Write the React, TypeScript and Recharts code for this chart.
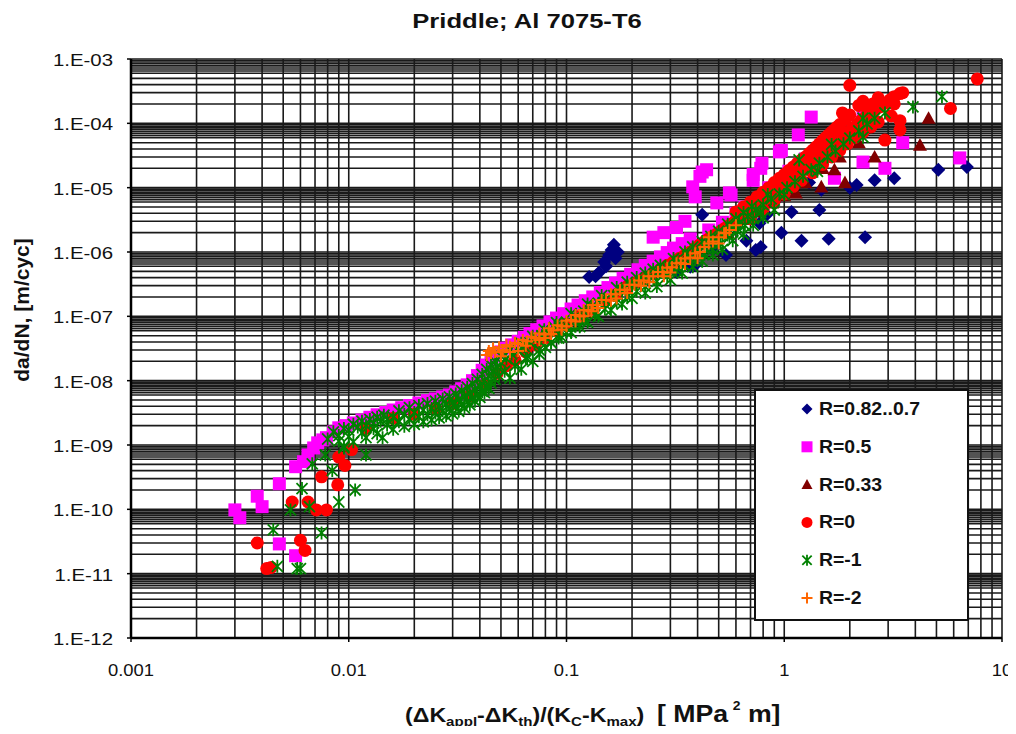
import React from "react";
import { ScatterChart, Scatter, XAxis, YAxis, CartesianGrid } from "recharts";

type Pt = [number, number];

const FONT = "'Liberation Sans', Arial, Helvetica, sans-serif";

const xTicks = [0.001, 0.01, 0.1, 1, 10];
const yTicks = [1e-12, 1e-11, 1e-10, 1e-9, 1e-8, 1e-7, 1e-6, 1e-5, 1e-4, 1e-3];

// R = 0.82..0.7
const navyPts: Pt[] = [
  [0.127, 4.1e-7], [0.136, 4.2e-7], [0.141, 4.8e-7], [0.149, 7e-7], [0.152, 6e-7], [0.157, 9e-7],
  [0.161, 1.07e-6], [0.165, 1.3e-6], [0.168, 8e-7], [0.172, 1.0e-6],
  [0.32, 4.9e-7], [0.34, 7.5e-7], [0.37, 5.9e-7], [0.39, 6.3e-7], [0.42, 3.8e-6], [0.47, 1.1e-6],
  [0.54, 9e-7], [0.6, 2.6e-6], [0.67, 1.5e-6], [0.74, 1.07e-6], [0.78, 1.2e-6], [0.77, 2.8e-6],
  [0.83, 3.8e-6], [0.9, 6e-6], [0.97, 2e-6], [1.08, 4.2e-6], [1.2, 1.5e-6], [1.3, 1.2e-5],
  [1.45, 4.5e-6], [1.48, 9.3e-6], [1.6, 1.6e-6], [2.0, 1.0e-5], [2.15, 1.1e-5], [2.35, 1.7e-6],
  [2.6, 1.3e-5], [3.2, 1.4e-5], [5.1, 1.9e-5], [6.9, 2.1e-5],
];

// R = 0.5
const magentaPts: Pt[] = [
  [0.003, 9.8e-11], [0.00316, 7.4e-11], [0.0038, 1.6e-10], [0.004, 1.1e-10], [0.0048, 2.5e-10],
  [0.0048, 2.9e-11], [0.0057, 1.9e-11], [0.0057, 4.6e-10], [0.0062, 5.5e-10], [0.0065, 7e-10],
  [0.0069, 9e-10], [0.0072, 1.08e-9], [0.0076, 1.2e-9], [0.0079, 1.3e-9],
  [0.0085, 1.6e-9], [0.009, 1.85e-9], [0.0097, 2.0e-9], [0.0105, 2.2e-9], [0.0115, 2.45e-9],
  [0.0125, 2.7e-9], [0.0135, 2.95e-9], [0.0148, 3.2e-9], [0.016, 3.5e-9], [0.0175, 3.8e-9],
  [0.019, 4.1e-9], [0.021, 4.5e-9], [0.023, 4.9e-9], [0.025, 5.2e-9], [0.027, 5.6e-9],
  [0.029, 6.0e-9], [0.031, 6.7e-9], [0.033, 7.5e-9], [0.035, 8.6e-9], [0.037, 1.0e-8],
  [0.039, 1.2e-8], [0.041, 1.45e-8], [0.043, 1.75e-8], [0.045, 2.1e-8], [0.047, 2.4e-8],
  [0.05, 2.8e-8], [0.053, 3.2e-8], [0.056, 3.6e-8], [0.06, 4.1e-8], [0.064, 4.7e-8],
  [0.068, 5.4e-8], [0.073, 6.2e-8], [0.078, 7.1e-8], [0.084, 8.2e-8], [0.09, 9.4e-8],
  [0.097, 1.1e-7], [0.105, 1.3e-7], [0.113, 1.5e-7], [0.122, 1.75e-7], [0.132, 2.0e-7],
  [0.143, 2.35e-7], [0.155, 2.8e-7], [0.168, 3.3e-7], [0.182, 3.9e-7], [0.197, 4.5e-7],
  [0.213, 5.3e-7], [0.23, 6.2e-7], [0.25, 7.2e-7], [0.27, 8.4e-7], [0.29, 9.8e-7],
  [0.31, 1.15e-6], [0.34, 1.35e-6], [0.37, 1.6e-6], [0.45, 2.2e-6], [0.52, 2.9e-6],
  [0.6, 4e-6], [0.66, 5e-6], [0.85, 1e-5], [1.05, 1.8e-5], [1.25, 2.8e-5], [1.45, 4e-5],
  [0.25, 1.7e-6], [0.28, 2.0e-6], [0.32, 2.4e-6], [0.35, 3.0e-6], [0.38, 1.03e-5], [0.39, 7.2e-6],
  [0.41, 1.5e-5], [0.42, 1.75e-5], [0.44, 1.9e-5], [0.49, 5.8e-6], [0.56, 8.3e-6], [0.57, 7.7e-6],
  [0.72, 1.3e-5], [0.72, 1.6e-5], [0.78, 2e-5], [0.79, 2.4e-5], [0.95, 3.6e-5], [0.97, 3.8e-5],
  [1.16, 6.6e-5], [1.33, 1.25e-4], [1.7, 1.4e-5], [2.3, 2.5e-5], [2.9, 2e-5], [3.5, 5e-5],
  [6.4, 2.9e-5], [2.3, 1.25e-4],
];

// R = 0.33
const darkRedPts: Pt[] = [
  [0.55, 2.0e-6], [0.65, 3.2e-6], [0.75, 4.2e-6], [0.88, 5.8e-6], [1.0, 7.5e-6], [1.13, 8.3e-6],
  [1.25, 1.2e-5], [1.48, 1.03e-5], [1.5, 2e-5], [1.7, 1.9e-5], [1.8, 3e-5], [1.9, 1.2e-5],
  [2.2, 5e-5], [2.6, 3e-5], [4.2, 4.6e-5], [4.6, 1.2e-4],
];

// R = 0
const redPts: Pt[] = [
  [0.0038, 3e-11], [0.0042, 1.2e-11], [0.0044, 1.25e-11], [0.0055, 1.3e-10], [0.006, 3.3e-11],
  [0.0063, 2.3e-11], [0.0065, 1.3e-10], [0.0071, 9.8e-11], [0.0079, 9.8e-11], [0.0075, 3.2e-10],
  [0.0089, 2.4e-10], [0.009, 6.5e-10], [0.0096, 4.8e-10], [0.0103, 8.5e-10],
  [0.012, 1.8e-9], [0.016, 2.6e-9], [0.02, 3.0e-9], [0.025, 3.7e-9], [0.03, 4.4e-9], [0.036, 5.8e-9],
  [0.042, 8.5e-9], [0.048, 1.3e-8], [0.053, 1.7e-8], [0.058, 2.1e-8], [0.065, 2.8e-8], [0.072, 3.6e-8],
  [0.08, 4.6e-8], [0.09, 6e-8], [0.1, 7.6e-8], [0.115, 1.0e-7], [0.13, 1.3e-7], [0.15, 1.7e-7],
  [0.17, 2.2e-7], [0.19, 2.9e-7], [0.21, 3.4e-7], [0.23, 4.0e-7], [0.25, 4.7e-7], [0.27, 5.4e-7],
  [0.29, 6.2e-7], [0.31, 7.0e-7], [0.33, 8.0e-7], [0.35, 9.0e-7], [0.37, 1.0e-6], [0.39, 1.15e-6],
  [0.41, 1.3e-6], [0.43, 1.45e-6], [0.45, 1.6e-6], [0.47, 1.75e-6], [0.49, 1.9e-6], [0.51, 2.1e-6],
  [0.53, 2.3e-6], [0.55, 2.5e-6], [0.57, 2.7e-6], [0.59, 2.9e-6], [0.61, 3.2e-6], [0.63, 3.5e-6],
  [0.66, 3.9e-6], [0.69, 4.3e-6], [0.72, 4.8e-6], [0.75, 5.3e-6], [0.78, 5.9e-6], [0.81, 6.5e-6],
  [0.84, 7.2e-6], [0.87, 8e-6], [0.9, 8.8e-6], [0.94, 9.8e-6], [0.98, 1.1e-5], [1.02, 1.2e-5],
  [1.06, 1.35e-5], [1.1, 1.5e-5], [1.15, 1.65e-5], [1.2, 1.85e-5], [1.25, 2.05e-5], [1.3, 2.3e-5],
  [1.36, 2.6e-5], [1.42, 2.9e-5], [1.48, 3.3e-5], [1.55, 3.7e-5], [1.62, 4.2e-5], [1.7, 4.8e-5],
  [1.78, 5.5e-5], [1.86, 6.3e-5], [1.95, 7.2e-5], [2.05, 8.3e-5], [2.15, 9.5e-5], [2.25, 1.1e-4],
  [2.36, 1.25e-4], [2.48, 1.4e-4], [2.6, 1.6e-4], [2.75, 1.8e-4], [2.9, 2.05e-4], [3.05, 2.3e-4],
  [3.2, 2.6e-4], [3.4, 2.9e-4],
  [0.6, 4.2e-6], [0.7, 6e-6], [0.8, 8.5e-6], [0.9, 1.2e-5], [1.0, 1.6e-5], [1.1, 2.1e-5],
  [1.2, 2.7e-5], [1.3, 3.4e-5], [1.4, 4.3e-5], [1.5, 5.4e-5], [1.6, 6.6e-5], [1.7, 8e-5],
  [1.8, 9.6e-5], [1.85, 1.45e-4], [1.9, 1.15e-4], [2.0, 1.35e-4],
  [0.65, 5e-6], [0.75, 7.2e-6], [0.85, 1.0e-5], [0.95, 1.4e-5], [1.05, 1.85e-5], [1.15, 2.4e-5],
  [1.25, 3.0e-5], [1.35, 3.8e-5], [1.45, 4.8e-5], [1.55, 6e-5], [1.65, 7.3e-5], [1.75, 8.8e-5],
  [2.4, 1.7e-4], [2.55, 2.0e-4], [2.3, 2.2e-4],
  [0.7, 3.3e-6], [0.8, 4.6e-6], [0.9, 6.2e-6], [1.0, 8e-6], [1.1, 1.05e-5], [1.2, 1.3e-5],
  [1.35, 1.7e-5], [1.5, 2.3e-5], [1.65, 3e-5], [1.8, 3.8e-5], [1.95, 4.8e-5], [2.1, 6e-5],
  [2.3, 7.3e-5], [2.5, 8.8e-5], [2.7, 1.05e-4], [2.9, 5.5e-5], [3.1, 1.3e-4], [3.4, 1.1e-4],
  [3.4, 7.9e-5],
  [2.0, 3.9e-4], [2.2, 1.9e-4], [2.7, 2.5e-4], [3.2, 2e-4], [3.5, 3e-4], [5.8, 1.7e-4], [7.7, 4.9e-4],
];

// R = -1
const greenPts: Pt[] = [
  [0.0045, 4.8e-11], [0.0047, 1.3e-11], [0.0058, 1.2e-11], [0.006, 1.2e-11], [0.0075, 4.3e-11],
  [0.0061, 2.1e-10], [0.0054, 9.8e-11], [0.009, 1.3e-10], [0.0107, 2e-10], [0.0066, 1.1e-10],
  [0.0068, 5.1e-10], [0.0084, 4e-10], [0.012, 7e-10], [0.0143, 1.3e-9], [0.0078, 7e-10], [0.0095, 9e-10],
  [0.008, 1.24e-9], [0.009, 1.4e-9], [0.01, 1.7e-9], [0.011, 1.9e-9], [0.012, 2.0e-9], [0.013, 2.2e-9],
  [0.014, 2.35e-9], [0.015, 2.5e-9], [0.016, 2.7e-9], [0.018, 3.0e-9], [0.02, 3.2e-9], [0.022, 3.5e-9],
  [0.024, 3.7e-9], [0.026, 4.0e-9], [0.028, 4.3e-9], [0.03, 4.6e-9], [0.032, 5.1e-9], [0.034, 5.7e-9],
  [0.036, 6.4e-9], [0.038, 7.2e-9], [0.04, 8.3e-9], [0.042, 1.0e-8], [0.044, 1.2e-8], [0.046, 1.4e-8],
  [0.048, 1.65e-8], [0.05, 1.9e-8], [0.053, 2.2e-8], [0.056, 2.6e-8], [0.06, 2.9e-8], [0.064, 3.4e-8],
  [0.068, 3.9e-8], [0.072, 4.4e-8], [0.077, 5e-8], [0.082, 5.8e-8], [0.088, 6.7e-8], [0.094, 7.4e-8],
  [0.1, 8.1e-8], [0.11, 1.0e-7], [0.12, 1.2e-7], [0.13, 1.4e-7], [0.14, 1.6e-7], [0.15, 1.8e-7],
  [0.165, 2.1e-7], [0.18, 2.5e-7], [0.2, 3.0e-7], [0.22, 3.4e-7], [0.24, 4.1e-7], [0.26, 4.7e-7],
  [0.28, 5.3e-7], [0.3, 5.9e-7], [0.33, 7.1e-7], [0.36, 8.5e-7], [0.4, 1.03e-6], [0.44, 1.3e-6],
  [0.48, 1.5e-6], [0.52, 1.8e-6], [0.57, 2.3e-6], [0.62, 2.8e-6], [0.68, 3.6e-6], [0.74, 4.5e-6],
  [0.8, 5.4e-6], [0.87, 6.7e-6], [0.95, 8.0e-6], [1.03, 1.0e-5], [1.12, 1.24e-5], [1.22, 1.5e-5],
  [1.33, 1.9e-5], [1.45, 2.4e-5], [1.58, 3.0e-5], [1.72, 3.7e-5], [1.87, 4.8e-5], [2.0, 5.9e-5],
  [2.2, 7.6e-5], [2.4, 9.8e-5], [2.6, 1.2e-4], [2.9, 1.45e-4], [3.9, 1.8e-4], [5.3, 2.6e-4],
  [0.0085, 1.6e-9], [0.0095, 1.8e-9], [0.0105, 2.1e-9], [0.0115, 2.35e-9], [0.0125, 2.5e-9],
  [0.0135, 2.7e-9], [0.0145, 2.9e-9], [0.017, 3.4e-9], [0.019, 3.8e-9], [0.021, 4.1e-9],
  [0.023, 4.4e-9], [0.025, 4.8e-9], [0.027, 5.2e-9], [0.029, 5.6e-9], [0.031, 6.2e-9],
  [0.033, 7.0e-9], [0.035, 7.9e-9], [0.037, 9.0e-9], [0.039, 1.05e-8], [0.041, 1.25e-8],
  [0.043, 1.5e-8], [0.045, 1.75e-8], [0.047, 2.0e-8], [0.05, 2.4e-8], [0.055, 3.0e-8],
  [0.062, 3.8e-8], [0.07, 4.9e-8], [0.079, 6.2e-8], [0.09, 8.0e-8], [0.105, 1.1e-7],
  [0.125, 1.55e-7], [0.145, 2.1e-7], [0.17, 2.8e-7], [0.19, 3.4e-7], [0.21, 4.0e-7],
  [0.23, 4.7e-7], [0.25, 5.4e-7], [0.27, 6.2e-7], [0.31, 7.9e-7], [0.35, 1.0e-6], [0.38, 1.2e-6],
  [0.42, 1.45e-6], [0.46, 1.75e-6], [0.5, 2.1e-6], [0.55, 2.7e-6], [0.6, 3.3e-6], [0.65, 4.1e-6],
  [0.71, 5.1e-6], [0.84, 7.8e-6], [1.17, 2.7e-5], [1.65, 4.7e-5], [2.3, 1.2e-4],
  [0.009, 1.15e-9], [0.01, 1.35e-9], [0.0115, 1.55e-9], [0.013, 1.8e-9], [0.015, 2.05e-9],
  [0.017, 2.3e-9], [0.019, 2.55e-9], [0.021, 2.75e-9], [0.023, 2.95e-9], [0.025, 3.15e-9],
  [0.027, 3.4e-9], [0.029, 3.65e-9], [0.031, 3.95e-9], [0.033, 4.3e-9], [0.035, 4.7e-9],
  [0.037, 5.2e-9], [0.039, 5.9e-9], [0.041, 6.8e-9], [0.043, 7.9e-9], [0.045, 9.2e-9],
  [0.047, 1.05e-8], [0.049, 1.2e-8], [0.052, 1.4e-8], [0.055, 1.1e-8], [0.058, 1.7e-8],
  [0.062, 1.5e-8], [0.066, 2.2e-8], [0.07, 2.0e-8], [0.075, 2.6e-8], [0.08, 3.3e-8],
  [0.085, 3.9e-8], [0.092, 4.6e-8], [0.1, 5.6e-8], [0.11, 7.0e-8], [0.12, 8.5e-8],
  [0.135, 1.05e-7], [0.15, 1.3e-7], [0.17, 1.65e-7], [0.19, 2.0e-7], [0.21, 2.45e-7],
  [0.23, 2.9e-7], [0.26, 3.5e-7], [0.29, 4.2e-7], [0.32, 5.1e-7], [0.35, 6.1e-7], [0.39, 7.5e-7],
  [0.43, 9.2e-7], [0.47, 1.1e-6], [0.51, 1.35e-6], [0.56, 1.7e-6], [0.61, 2.1e-6], [0.66, 2.6e-6],
  [0.72, 3.3e-6], [0.78, 4.1e-6], [1.0, 7.8e-6], [1.42, 1.8e-5], [2.3, 6.1e-5],
  // lower fringe of the band
  [0.0095, 9.5e-10], [0.0105, 1.12e-9], [0.012, 1.3e-9], [0.0135, 1.5e-9], [0.016, 1.75e-9],
  [0.018, 1.95e-9], [0.02, 2.1e-9], [0.022, 2.3e-9], [0.024, 2.45e-9], [0.026, 2.65e-9],
  [0.028, 2.85e-9], [0.03, 3.05e-9], [0.032, 3.35e-9], [0.034, 3.75e-9], [0.036, 4.2e-9],
  [0.038, 4.8e-9], [0.04, 5.5e-9], [0.042, 6.5e-9], [0.044, 7.6e-9], [0.065, 2.25e-8],
  [0.075, 3e-8], [0.085, 3.9e-8], [0.095, 4.75e-8], [0.105, 5.6e-8], [0.115, 6.9e-8],
  [0.125, 8.1e-8], [0.14, 1.0e-7], [0.16, 1.25e-7], [0.18, 1.55e-7], [0.2, 1.9e-7],
  [0.23, 2.3e-7], [0.26, 2.9e-7], [0.3, 3.7e-7], [0.34, 4.7e-7], [0.38, 5.9e-7], [0.42, 7.2e-7],
  [0.47, 9e-7], [0.52, 1.1e-6], [0.58, 1.5e-6], [0.65, 1.9e-6], [0.72, 2.6e-6], [0.8, 3.4e-6],
  [0.9, 4.5e-6],
];

// R = -2
const orangePts: Pt[] = [
  [0.043, 2.5e-8], [0.044, 2.9e-8], [0.045, 2.7e-8], [0.046, 3.2e-8], [0.047, 2.8e-8], [0.049, 3.3e-8],
  [0.051, 3.0e-8], [0.053, 3.6e-8], [0.055, 3.4e-8], [0.058, 3.9e-8], [0.06, 3.7e-8], [0.063, 4.3e-8],
  [0.066, 4.1e-8], [0.069, 4.8e-8], [0.072, 4.6e-8], [0.075, 5.4e-8], [0.079, 5.2e-8], [0.083, 6.5e-8],
  [0.087, 6.1e-8], [0.091, 7.3e-8], [0.095, 7.0e-8], [0.1, 8.5e-8], [0.105, 8.8e-8], [0.11, 1.05e-7],
  [0.115, 1.0e-7], [0.12, 1.25e-7], [0.126, 1.25e-7], [0.132, 1.5e-7], [0.138, 1.5e-7], [0.145, 1.8e-7],
  [0.152, 1.8e-7], [0.16, 2.2e-7], [0.168, 2.2e-7], [0.176, 2.6e-7], [0.185, 2.6e-7], [0.195, 3.1e-7],
  [0.205, 3.1e-7], [0.215, 3.6e-7], [0.226, 3.6e-7], [0.238, 4.2e-7], [0.25, 4.2e-7], [0.263, 4.9e-7],
  [0.276, 4.9e-7], [0.29, 5.7e-7], [0.305, 5.8e-7], [0.32, 6.7e-7], [0.335, 6.8e-7], [0.35, 7.9e-7],
  [0.37, 8.2e-7], [0.39, 9.6e-7], [0.41, 1.0e-6], [0.43, 1.2e-6], [0.45, 1.35e-6], [0.47, 1.45e-6],
  [0.5, 1.7e-6], [0.53, 1.95e-6], [0.56, 2.2e-6], [0.6, 2.6e-6], [0.45, 1.7e-6], [0.54, 2.0e-6],
  [0.06, 2.9e-8], [0.08, 4.6e-8], [0.1, 7e-8], [0.13, 1.2e-7], [0.17, 1.9e-7], [0.22, 3e-7],
  [0.28, 4.2e-7], [0.35, 6.5e-7],
  [0.05, 2.4e-8], [0.055, 2.8e-8], [0.065, 3.5e-8], [0.075, 4.3e-8], [0.085, 5.3e-8], [0.095, 6.2e-8],
  [0.11, 8.3e-8], [0.12, 1.0e-7], [0.14, 1.35e-7], [0.16, 1.75e-7], [0.19, 2.3e-7], [0.24, 3.4e-7],
  [0.3, 4.8e-7], [0.4, 8e-7], [0.5, 1.35e-6],
];

const toRows = (pts: Pt[]) => pts.map(([x, y]) => ({ x, y }));

// log grid: every integer step in x, denser steps toward the top of each y decade
const xSteps = [1, 2, 3, 4, 5, 6, 7, 8, 9];
const ySteps = [1, 2, 3, 4, 5, 6, 6.5, 7, 7.5, 8, 8.5, 9, 9.5];
const xGrid = [-3, -2, -1, 0].flatMap((e) => xSteps.map((s) => s * Math.pow(10, e))).concat(10);
const yGrid = [-12, -11, -10, -9, -8, -7, -6, -5, -4]
  .flatMap((e) => ySteps.map((s) => s * Math.pow(10, e)))
  .concat(1e-3);

const drawDiamond = (cx: number, cy: number, r = 7) => (
  <path d={`M${cx},${cy - r}L${cx + r},${cy}L${cx},${cy + r}L${cx - r},${cy}Z`} fill="#000080" />
);
const drawSquare = (cx: number, cy: number, r = 6.5) => (
  <rect x={cx - r} y={cy - r} width={2 * r} height={2 * r} fill="#ff00ff" />
);
const drawTriangle = (cx: number, cy: number, r = 7) => (
  <path d={`M${cx},${cy - r}L${cx + r},${cy + r * 0.8}L${cx - r},${cy + r * 0.8}Z`} fill="#800000" />
);
const drawCircle = (cx: number, cy: number, r = 6.5) => <circle cx={cx} cy={cy} r={r} fill="#ff0000" />;
const drawStar = (cx: number, cy: number, r = 6.5) => (
  <path
    d={`M${cx},${cy - r}V${cy + r}M${cx - r * 0.85},${cy - r * 0.85}L${cx + r * 0.85},${cy + r * 0.85}M${cx + r * 0.85},${cy - r * 0.85}L${cx - r * 0.85},${cy + r * 0.85}`}
    stroke="#008000"
    strokeWidth={1.8}
    fill="none"
  />
);
const drawPlus = (cx: number, cy: number, r = 6) => (
  <path d={`M${cx - r},${cy}H${cx + r}M${cx},${cy - r}V${cy + r}`} stroke="#ff6600" strokeWidth={2} fill="none" />
);

const series = [
  { name: "R=0.82..0.7", pts: navyPts, draw: drawDiamond },
  { name: "R=0.5", pts: magentaPts, draw: drawSquare },
  { name: "R=0.33", pts: darkRedPts, draw: drawTriangle },
  { name: "R=0", pts: redPts, draw: drawCircle },
  { name: "R=-1", pts: greenPts, draw: drawStar },
  { name: "R=-2", pts: orangePts, draw: drawPlus },
];

const fmtY = (v: number) => {
  const e = Math.round(-Math.log10(v));
  return `1.E-${String(e).padStart(2, "0")}`;
};

const YTick = (p: any) => (
  <text
    transform={`translate(${p.x},${p.y + 7}) scale(1.2,1)`}
    textAnchor="end"
    fontSize={17}
    fontFamily={FONT}
    fill="#111"
  >
    {fmtY(p.payload.value)}
  </text>
);

const XTick = (p: any) => (
  <text
    transform={`translate(${p.x},${p.y + 34}) scale(1.15,1)`}
    textAnchor="middle"
    fontSize={16}
    fontFamily={FONT}
    fill="#111"
  >
    {String(p.payload.value)}
  </text>
);

const yTitle = () => (
  <text
    transform="translate(21,302) rotate(-90)"
    textAnchor="middle"
    fontSize={21}
    fontWeight="bold"
    fontFamily={FONT}
    fill="#111"
  >
    da/dN, [m/cyc]
  </text>
);

const xTitle = () => (
  <g fontFamily={FONT} fontWeight="bold" fill="#111">
    <text transform="translate(397,714) scale(1.16,1)" fontSize={20}>
      (ΔK<tspan fontSize={13} dy={4}>appl</tspan>
      <tspan dy={-4}>-ΔK</tspan>
      <tspan fontSize={13} dy={4}>th</tspan>
      <tspan dy={-4}>)/(K</tspan>
      <tspan fontSize={13} dy={4}>C</tspan>
      <tspan dy={-4}>-K</tspan>
      <tspan fontSize={13} dy={4}>max</tspan>
      <tspan dy={-4}>)</tspan>
    </text>
    <text transform="translate(649,714) scale(1.16,1)" fontSize={23}>
      [ MPa<tspan fontSize={12} dy={-12} dx={4}>2</tspan>
      <tspan dy={12}> m]</tspan>
    </text>
  </g>
);

export default function App() {
  return (
    <div style={{ position: "relative", width: 1000, height: 718 }}>
      <ScatterChart width={1008} height={726} margin={{ top: 51, right: 14, bottom: 0, left: 0 }}>
        <CartesianGrid stroke="#1a1a1a" strokeWidth={1.6} horizontalValues={yGrid} verticalValues={xGrid} />
        <XAxis
          type="number"
          dataKey="x"
          scale="log"
          domain={[0.001, 10]}
          ticks={xTicks}
          interval={0}
          allowDataOverflow
          height={96}
          tickSize={4}
          tickMargin={0}
          tick={<XTick />}
          axisLine={{ stroke: "#000", strokeWidth: 2.5 }}
          tickLine={{ stroke: "#000", strokeWidth: 1.5 }}
          label={{ content: xTitle }}
        />
        <YAxis
          type="number"
          dataKey="y"
          scale="log"
          domain={[1e-12, 1e-3]}
          ticks={yTicks}
          interval={0}
          allowDataOverflow
          width={123}
          tickSize={4}
          tickMargin={14}
          tick={<YTick />}
          axisLine={{ stroke: "#000", strokeWidth: 2.5 }}
          tickLine={{ stroke: "#000", strokeWidth: 1.5 }}
          label={{ content: yTitle }}
        />
        {series.map((s) => (
          <Scatter
            key={s.name}
            name={s.name}
            data={toRows(s.pts)}
            isAnimationActive={false}
            shape={(p: any) => s.draw(p.cx, p.cy)}
          />
        ))}
      </ScatterChart>
      <svg
        width={1008}
        height={718}
        style={{ position: "absolute", left: 0, top: 0, pointerEvents: "none" }}
      >
        <text
          transform="translate(519,20) scale(1.22,1)"
          textAnchor="middle"
          fontSize={21}
          fontWeight="bold"
          fontFamily={FONT}
          fill="#111"
        >
          Priddle; Al 7075-T6
        </text>
        <rect x={747} y={382} width={213} height={230} fill="#fff" stroke="#111" strokeWidth={2} />
        {series.map((s, i) => (
          <g key={s.name}>
            {s.draw(799, 401 + i * 37.8, 5.5)}
            <text
              transform={`translate(811,${407 + i * 37.8}) scale(1.08,1)`}
              fontSize={18}
              fontWeight="bold"
              fontFamily={FONT}
              fill="#111"
            >
              {s.name}
            </text>
          </g>
        ))}
      </svg>
    </div>
  );
}
